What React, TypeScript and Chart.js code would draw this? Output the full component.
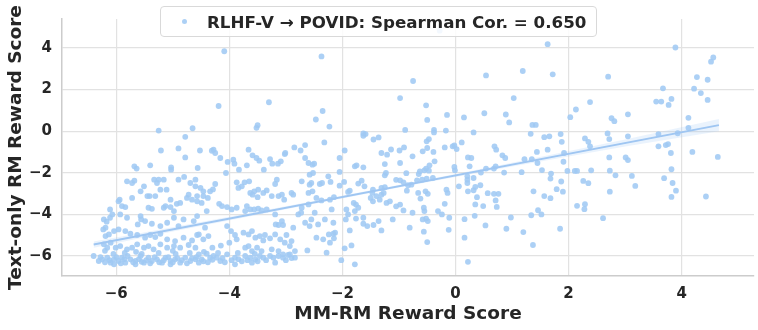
import React, { useEffect, useRef } from "react";
import { Chart, registerables } from "chart.js";

Chart.register(...registerables);

const FONT = "'DejaVu Sans', sans-serif";
const TEXT = "#262626";
const POINT = "rgba(161,201,244,0.88)";
const LINE = "#9fc6f2";

const legendLabel = "RLHF-V → POVID: Spearman Cor. = 0.650";
const xTitle = "MM-RM Reward Score";
const yTitle = "Text-only RM Reward Score";

const xTicks = [-6, -4, -2, 0, 2, 4];
const yTicks = [-6, -4, -2, 0, 2, 4];
const xLimits = [-6.96, 5.28];
const yLimits = [-6.96, 5.39];

// regression line end points and its confidence band
const fitX = [-6.4, 4.66];
const fitY = [-5.45, 0.29];
const bandX = [-6.4, -5, -3, -1, 0, 1, 3, 4.66];
const bandUpper = [-5.3, -4.62, -3.61, -2.59, -2.06, -1.52, -0.4, 0.59];
const bandLower = [-5.6, -4.82, -3.75, -2.71, -2.2, -1.7, -0.74, -0.01];

// [MM-RM score, text-only RM score]
const scorePairs: [number, number][] = [
  [-5.25, 0.03], [-4.65, 0.14], [-4.78, -0.27], [-5.21, -0.93], [-4.9, -0.83], [-4.52, -0.93],
  [-4.09, 3.84], [-2.37, 3.59], [-4.19, 1.21], [-3.3, 1.39], [-2.35, 0.97], [-2.47, 0.56], [-2.23, 0.22],
  [-3.5, 0.29], [-3.52, 0.16], [-4.28, -0.89], [-3.66, -0.89], [-2.85, -0.78], [-2.66, -0.67], [-2.74, -0.93],
  [-2.32, -0.54], [-3.01, -1.05],
  [-0.75, 2.41], [-0.98, 1.59], [-0.52, 1.24], [-0.5, 0.54], [-0.15, 0.78], [0.15, 0.66], [-0.89, 0.06],
  [-0.38, 0.06], [-0.38, -0.06], [-0.17, 0.03], [-1.63, -0.11], [-1.59, -0.14], [-1.63, -0.22], [-1.45, -0.4],
  [-1.36, -0.3], [-0.51, -0.49], [-0.47, -0.38], [-1.96, -0.93], [-1.31, -1.05], [-1.14, -0.88], [-0.99, -0.93],
  [-0.91, -0.78], [-0.5, -0.81], [-0.58, -0.97], [-0.39, -1.0], [-0.19, -0.78], [-0.05, -0.73], [-0.02, -0.69],
  [0.02, -0.86], [0.11, -0.54], [-0.28, 4.83],
  [1.63, 4.18], [0.54, 2.68], [1.19, 2.89], [1.72, 2.73], [1.03, 1.59], [2.38, 1.4], [2.13, 1.04], [2.03, 0.67],
  [0.51, 0.86], [0.89, 0.8], [0.95, 0.42], [1.36, 0.3], [1.42, 0.3], [0.32, -0.06], [1.33, -0.13], [1.57, -0.29],
  [1.66, -0.25], [1.86, -0.14], [1.88, -0.51], [2.29, -0.35], [2.35, -0.51], [2.38, -0.73], [0.69, -0.73],
  [0.72, -0.89], [1.44, -1.0], [1.63, -0.89], [1.92, -1.05],
  [3.89, 4.02], [4.56, 3.54], [4.52, 3.34], [2.7, 2.62], [4.27, 2.6], [4.46, 2.47], [3.67, 2.06], [4.22, 2.04],
  [4.34, 1.83], [4.46, 1.5], [3.55, 1.42], [3.64, 1.42], [3.82, 1.55], [3.77, 1.26], [2.76, 0.62], [2.81, 0.48],
  [3.05, 0.81], [4.12, 0.64], [4.12, 0.16], [2.69, -0.11], [2.72, -0.38], [3.05, -0.25], [3.59, -0.14],
  [3.93, -0.1], [3.59, -0.73], [3.72, -0.67], [3.76, -0.62], [3.81, -1.05], [4.19, -1.0],
  [4.64, -1.24], [2.72, -1.26], [3.01, -1.26], [3.05, -1.39], [2.73, -1.9], [2.83, -2.12], [3.12, -2.15],
  [3.82, -1.83], [3.69, -2.26], [3.84, -2.49], [3.9, -2.86], [3.82, -3.16], [3.18, -2.63], [2.73, -2.91],
  [4.43, -3.14], [2.61, -4.18],
  [0.22, -1.26], [0.28, -1.29], [0.25, -1.69], [0.83, -1.16], [0.88, -1.29], [1.22, -1.35], [1.35, -1.34],
  [1.45, -1.53], [1.91, -1.47], [0.54, -1.8], [0.68, -1.8], [0.71, -1.69], [0.45, -1.99], [0.86, -1.99],
  [1.17, -1.97], [1.53, -1.87], [1.69, -2.04], [1.68, -2.28], [1.98, -1.91], [2.11, -1.91], [2.15, -1.91],
  [2.4, -1.88], [2.26, -2.39], [2.35, -2.5], [0.21, -2.17], [0.21, -2.33], [0.21, -2.49], [0.32, -2.25],
  [0.44, -2.6], [0.35, -2.68], [0.32, -2.84], [0.22, -2.89], [0.57, -2.98], [0.68, -3.01], [0.76, -3.01],
  [0.38, -3.17], [0.71, -3.33], [0.73, -3.64], [0.35, -3.52], [0.49, -3.6], [1.38, -2.89], [1.79, -2.79],
  [1.9, -2.91], [1.57, -3.12], [1.68, -3.22], [1.87, -2.42], [1.46, -3.8], [1.52, -4.0], [1.34, -4.04],
  [0.98, -4.15], [0.9, -4.69], [1.2, -4.85], [0.53, -4.53], [0.34, -4.07], [0.16, -4.23], [1.85, -4.69],
  [1.37, -5.47], [0.16, -5.12], [0.22, -6.28], [2.15, -3.59], [2.29, -3.51], [2.28, -3.75],
  [-2.05, -1.29], [-1.21, -1.13], [-0.76, -1.21], [-1.25, -1.58], [-0.98, -1.53], [-1.78, -1.69],
  [-1.75, -1.64], [-1.63, -1.74], [-2.05, -1.96], [-1.23, -2.01], [-1.25, -2.12], [-0.87, -2.02],
  [-0.37, -1.45], [-0.46, -1.64], [-0.52, -1.8], [-0.55, -1.88], [-0.47, -1.9], [-0.63, -1.93], [-0.65, -2.06],
  [-0.02, -1.72], [-0.01, -1.88], [-2.21, -2.44], [-1.97, -2.44], [-2.05, -2.62], [-1.72, -2.52],
  [-1.66, -2.38], [-1.61, -2.65], [-1.9, -2.92], [-1.87, -2.86], [-1.46, -2.81], [-1.47, -2.97], [-1.5, -3.21],
  [-1.46, -3.37], [-1.4, -3.12], [-1.34, -3.29], [-1.31, -2.73], [-1.25, -2.69], [-1.27, -2.97], [-1.31, -3.05],
  [-2.15, -3.17], [-1.93, -3.76], [-1.9, -4.0], [-1.94, -4.24], [-1.8, -3.45], [-1.76, -3.53], [-1.72, -3.68],
  [-1.78, -3.84], [-1.76, -4.2], [-1.63, -4.16], [-1.63, -4.45], [-1.56, -4.56], [-1.45, -4.51], [-1.36, -4.32],
  [-1.31, -4.77], [-1.22, -3.45], [-1.16, -3.37], [-1.05, -3.61], [-0.98, -3.53], [-0.92, -3.81], [-1.11, -4.24],
  [-0.76, -3.92], [-0.81, -4.64], [-0.66, -2.97], [-0.62, -3.24], [-0.53, -2.89], [-0.49, -3.01], [-0.56, -3.68],
  [-0.55, -3.84], [-0.58, -4.24], [-0.49, -4.32], [-0.52, -4.2], [-0.56, -4.83], [-0.5, -5.33], [-0.31, -3.84],
  [-0.24, -4.0], [-0.19, -3.49], [-0.16, -2.81], [-0.14, -2.97], [-0.11, -4.16], [-0.12, -4.74], [0.06, -2.65],
  [-2.13, -4.88], [-2.15, -5.15], [-2.22, -5.36], [-1.87, -4.77], [-1.96, -5.63], [-1.84, -5.49], [-2.02, -6.2],
  [-1.78, -6.4], [-1.05, -2.34], [-0.98, -2.36], [-0.92, -2.46], [-0.84, -2.6], [-0.78, -2.57], [-0.86, -2.86],
  [-0.68, -2.36], [-0.59, -2.33], [-0.51, -2.28], [-0.4, -2.25],
  [-3.59, -1.16], [-3.52, -1.29], [-3.47, -1.42], [-3.28, -1.34], [-3.24, -1.56], [-3.14, -1.56], [-3.09, -1.45],
  [-3.02, -1.1], [-2.66, -1.29], [-2.6, -1.53], [-2.53, -1.61], [-2.5, -1.56], [-4.03, -1.48], [-3.93, -1.37],
  [-3.91, -1.56], [-4.56, -1.77], [-4.06, -2.01], [-3.83, -1.85], [-3.69, -1.64], [-3.39, -1.85], [-3.16, -2.33],
  [-3.19, -2.54], [-3.87, -2.46], [-3.78, -2.65], [-3.84, -2.73], [-3.65, -2.41], [-3.73, -2.46], [-3.56, -2.89],
  [-3.63, -2.97], [-3.59, -3.05], [-3.5, -3.17], [-3.49, -2.81], [-3.34, -2.85], [-3.4, -2.97], [-3.25, -3.12],
  [-3.13, -3.12], [-3.03, -3.29], [-3.07, -3.05], [-2.9, -2.97], [-2.87, -3.05], [-2.72, -2.41], [-2.58, -2.57],
  [-2.55, -2.49], [-2.4, -2.54], [-2.36, -2.49], [-2.53, -2.89], [-2.6, -2.97], [-2.25, -2.17], [-2.58, -2.09],
  [-2.52, -2.01], [-4.25, -2.54], [-4.34, -2.89], [-4.29, -2.8], [-4.57, -3.12], [-4.46, -3.12], [-4.38, -3.21],
  [-4.49, -3.45], [-4.4, -3.84], [-4.18, -3.49], [-4.13, -3.6], [-4.04, -3.65], [-3.96, -3.76], [-3.87, -3.68],
  [-3.69, -3.6], [-3.63, -3.76], [-3.72, -3.84], [-3.56, -3.76], [-3.49, -3.72], [-3.43, -3.81], [-3.34, -3.76],
  [-3.19, -4.0], [-3.13, -4.51], [-3.18, -4.48], [-3.07, -4.32], [-3.05, -4.51], [-2.87, -4.64], [-2.66, -4.4],
  [-2.58, -4.56], [-2.55, -4.24], [-2.43, -4.48], [-2.78, -4.0], [-2.72, -3.68], [-2.73, -3.92], [-2.31, -4.24],
  [-2.16, -4.4], [-2.24, -4.96], [-2.16, -4.93], [-2.46, -5.12], [-2.34, -5.2], [-2.62, -5.73], [-2.28, -5.84],
  [-4.43, -4.64], [-4.37, -5.04], [-4.46, -5.2], [-4.54, -4.96], [-4.04, -4.56], [-3.97, -4.8], [-3.9, -4.99],
  [-3.87, -5.2], [-4.0, -5.36], [-3.75, -4.88], [-3.66, -4.96], [-3.6, -4.8], [-3.54, -5.12], [-3.46, -5.04],
  [-3.37, -4.99], [-3.4, -5.25], [-3.28, -5.15], [-3.19, -4.96], [-3.1, -5.2], [-3.02, -5.36], [-2.93, -5.52],
  [-2.9, -5.28], [-2.99, -4.99], [-3.72, -5.6], [-3.66, -5.52], [-3.6, -5.76], [-3.51, -5.6], [-3.43, -5.76],
  [-3.25, -5.68], [-3.13, -5.76], [-3.05, -5.92], [-2.96, -5.95], [-2.84, -5.76], [-4.54, -5.92], [-4.49, -6.16],
  [-4.4, -5.89], [-4.34, -6.08], [-4.28, -6.0], [-4.22, -6.08], [-4.16, -6.24], [-4.04, -5.92], [-3.9, -6.08],
  [-3.9, -6.4], [-3.72, -6.0], [-3.63, -6.08], [-3.54, -6.16], [-3.46, -6.0], [-3.4, -6.08], [-3.22, -6.08],
  [-3.13, -6.0], [-3.05, -6.08], [-2.93, -5.92], [-2.84, -6.08], [-3.19, -6.32], [-3.6, -6.32], [-2.37, -3.33],
  [-2.22, -3.29], [-2.46, -3.21], [-2.6, -3.52], [-2.49, -3.92], [-2.19, -3.76], [-4.25, -1.05], [-4.16, -1.29],
  [-4.31, -0.94], [-4.6, -2.65], [-4.51, -2.73], [-4.46, -2.89],
  [-4.78, -1.26], [-5.68, -1.69], [-5.64, -1.8], [-5.4, -1.64], [-5.03, -1.74], [-5.03, -1.85], [-5.81, -2.41],
  [-5.72, -2.49], [-5.68, -2.38], [-5.33, -2.33], [-5.25, -2.33], [-5.16, -2.33], [-5.28, -2.49], [-4.9, -2.33],
  [-4.8, -2.2], [-4.69, -2.49], [-4.6, -2.33], [-5.11, -2.81], [-5.22, -2.81], [-5.57, -2.89], [-5.51, -2.65],
  [-5.41, -3.12], [-5.45, -3.12], [-5.31, -3.12], [-5.94, -3.29], [-5.96, -3.37], [-5.72, -3.21], [-5.04, -3.29],
  [-4.93, -3.49], [-4.87, -3.45], [-4.72, -3.05], [-4.75, -3.21], [-4.66, -3.29], [-4.57, -3.37], [-5.9, -3.6],
  [-5.84, -3.65], [-5.43, -3.68], [-5.37, -3.73], [-5.16, -3.68], [-5.13, -3.6], [-5.04, -3.65], [-4.98, -3.84],
  [-6.11, -3.76], [-6.07, -4.0], [-6.11, -4.16], [-6.22, -4.24], [-6.17, -4.35], [-6.19, -4.64], [-6.23, -4.72],
  [-5.93, -4.0], [-5.81, -4.16], [-5.57, -4.08], [-5.56, -4.24], [-5.62, -4.48], [-5.49, -4.32], [-5.37, -4.45],
  [-5.22, -4.56], [-5.1, -4.4], [-4.98, -4.16], [-4.9, -4.56], [-4.81, -4.24], [-4.63, -4.32], [-4.57, -4.08],
  [-6.19, -5.04], [-6.13, -4.96], [-6.04, -4.8], [-5.96, -4.72], [-5.84, -4.8], [-5.75, -4.93], [-5.63, -4.99],
  [-5.49, -5.12], [-5.4, -4.99], [-5.31, -5.09], [-5.22, -4.93], [-5.1, -5.2], [-4.96, -5.28], [-4.81, -5.12],
  [-4.66, -5.25], [-4.57, -4.99], [-6.22, -5.44], [-6.16, -5.6], [-6.1, -5.36], [-6.01, -5.6], [-5.93, -5.52],
  [-5.81, -5.68], [-5.72, -5.6], [-5.63, -5.44], [-5.51, -5.6], [-5.43, -5.52], [-5.34, -5.68], [-5.22, -5.44],
  [-5.1, -5.6], [-4.98, -5.52], [-4.87, -5.6], [-4.72, -5.47], [-4.6, -5.6], [-6.4, -6.0], [-6.31, -6.24],
  [-6.25, -6.16], [-6.16, -6.08], [-6.1, -6.32], [-6.04, -6.16], [-5.96, -6.24], [-5.9, -6.08], [-5.84, -6.32],
  [-5.75, -6.16], [-5.66, -6.24], [-5.57, -6.0], [-5.51, -6.32], [-5.43, -6.08], [-5.37, -6.24], [-5.28, -6.16],
  [-5.19, -6.32], [-5.13, -6.08], [-5.04, -6.24], [-4.96, -6.16], [-4.87, -6.32], [-4.78, -6.08], [-4.69, -6.24],
  [-4.6, -6.16], [-4.54, -6.32], [-5.66, -6.4], [-6.04, -6.4], [-5.04, -6.4],
  // dense lower band, second pass
  [-6.28, -6.05], [-6.2, -6.3], [-6.12, -6.2], [-6.0, -6.05], [-5.92, -6.35], [-5.86, -6.15], [-5.8, -6.0],
  [-5.7, -6.3], [-5.6, -6.15], [-5.55, -6.28], [-5.47, -6.2], [-5.4, -6.35], [-5.32, -6.05], [-5.24, -6.3],
  [-5.16, -6.2], [-5.08, -6.05], [-5.0, -6.3], [-4.92, -6.1], [-4.84, -6.2], [-4.75, -6.35], [-4.66, -6.1],
  [-4.58, -6.05], [-4.46, -6.25], [-4.38, -6.3], [-4.3, -6.18], [-4.12, -6.1], [-4.08, -6.3], [-3.96, -6.2],
  [-3.84, -6.15], [-3.78, -6.25], [-3.68, -6.2], [-3.5, -6.25], [-3.35, -6.2], [-3.28, -6.0], [-3.0, -6.2],
  [-2.9, -6.1], [-6.05, -5.9], [-5.85, -5.85], [-5.55, -5.9], [-5.25, -5.85], [-4.95, -5.9], [-4.7, -5.85],
  [-4.45, -5.8], [-4.2, -5.85], [-3.85, -5.85], [-3.55, -5.9], [-6.2, -5.75], [-5.65, -5.8], [-5.0, -5.75],
  [-4.3, -5.6], [-4.15, -5.5],
];

const fmtTick = (v: number) => (v < 0 ? "\u2212" + Math.abs(v) : String(v));

export default function App() {
  const canvasRef = useRef<HTMLCanvasElement | null>(null);

  useEffect(() => {
    if (!canvasRef.current) return;
    const tickFont = { family: FONT, size: 15, weight: "bold" as const };
    const titleFont = { family: FONT, size: 18.5, weight: "bold" as const };
    const chart = new Chart(canvasRef.current, {
      type: "scatter",
      data: {
        datasets: [
          {
            label: "fit",
            data: fitX.map((x, i) => ({ x, y: fitY[i] })),
            showLine: true,
            borderColor: LINE,
            borderWidth: 2,
            pointRadius: 0,
          },
          {
            label: "upper",
            data: bandX.map((x, i) => ({ x, y: bandUpper[i] })),
            showLine: true,
            borderWidth: 0,
            borderColor: "rgba(0,0,0,0)",
            pointRadius: 0,
            fill: "+1",
            backgroundColor: "rgba(161,201,244,0.22)",
          },
          {
            label: "lower",
            data: bandX.map((x, i) => ({ x, y: bandLower[i] })),
            showLine: true,
            borderWidth: 0,
            borderColor: "rgba(0,0,0,0)",
            pointRadius: 0,
          },
          {
            label: legendLabel,
            data: scorePairs.map(([x, y]) => ({ x, y })),
            pointRadius: 2.9,
            pointBorderWidth: 0,
            backgroundColor: POINT,
            borderColor: POINT,
          },
        ],
      },
      options: {
        animation: false,
        responsive: false,
        maintainAspectRatio: false,
        layout: { padding: { top: 18, right: 3, left: 0, bottom: 0 } },
        plugins: { legend: { display: false }, tooltip: { enabled: false } },
        scales: {
          x: {
            type: "linear",
            min: xLimits[0],
            max: xLimits[1],
            afterBuildTicks: (s: any) => {
              s.ticks = xTicks.map((v) => ({ value: v }));
            },
            afterFit: (s: any) => {
              s.height = 54;
            },
            grid: { color: "#e2e2e2", lineWidth: 1.2, drawTicks: false },
            border: { color: "#cccccc", width: 1.5 },
            ticks: {
              autoSkip: false,
              maxRotation: 0,
              padding: 9,
              color: TEXT,
              font: tickFont,
              callback: (v: any) => fmtTick(Number(v)),
            },
            title: {
              display: true,
              text: xTitle,
              color: TEXT,
              font: titleFont,
              padding: { top: 0, bottom: 5 },
            },
          },
          y: {
            type: "linear",
            min: yLimits[0],
            max: yLimits[1],
            afterBuildTicks: (s: any) => {
              s.ticks = yTicks.map((v) => ({ value: v }));
            },
            afterFit: (s: any) => {
              s.width = 62;
            },
            grid: { color: "#e2e2e2", lineWidth: 1.2, drawTicks: false },
            border: { color: "#cccccc", width: 1.5 },
            ticks: {
              autoSkip: false,
              padding: 10,
              color: TEXT,
              font: tickFont,
              callback: (v: any) => fmtTick(Number(v)),
            },
            title: {
              display: true,
              text: yTitle,
              color: TEXT,
              font: titleFont,
              padding: { top: 5, bottom: 0 },
            },
          },
        },
      },
    });
    return () => chart.destroy();
  }, []);

  return (
    <div style={{ position: "fixed", left: 0, top: 0, width: 758, height: 330, background: "#fff" }}>
      <canvas ref={canvasRef} width={758} height={330} style={{ width: 758, height: 330, display: "block" }} />
      <div
        style={{
          position: "absolute",
          left: 160,
          top: 6,
          width: 437,
          height: 31,
          boxSizing: "border-box",
          border: "1px solid #d9d9d9",
          borderRadius: 4,
          background: "rgba(255,255,255,0.85)",
          fontFamily: FONT,
          fontWeight: "bold",
          fontSize: 16.7,
          color: TEXT,
          display: "flex",
          alignItems: "center",
        }}
      >
        <span
          style={{
            display: "inline-block",
            width: 5,
            height: 5,
            borderRadius: "50%",
            background: POINT,
            marginLeft: 21,
            marginRight: 20,
          }}
        />
        <span style={{ whiteSpace: "nowrap" }}>{legendLabel}</span>
      </div>
    </div>
  );
}
